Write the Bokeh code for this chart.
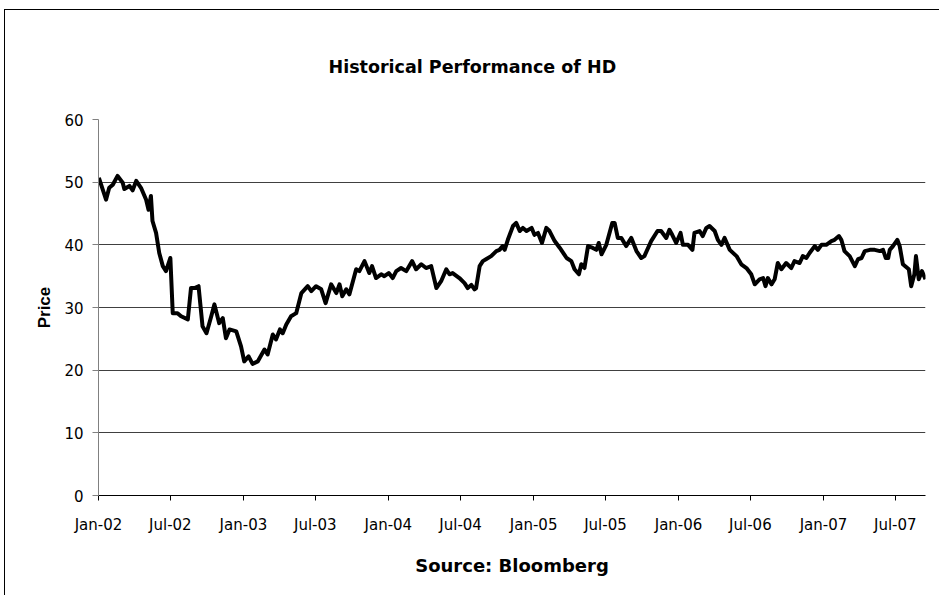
import pandas as pd
from bokeh.plotting import figure
from bokeh.models import (Range1d, FixedTicker, DatetimeTickFormatter, ColumnDataSource)
from bokeh.embed import file_html
from bokeh.resources import INLINE

# ---------------- data ----------------
dates = [
    "2002-01-02", "2002-01-20", "2002-01-28", "2002-02-06", "2002-02-18", "2002-03-03",
    "2002-03-07", "2002-03-20", "2002-03-28", "2002-04-06", "2002-04-18", "2002-05-01",
    "2002-05-07", "2002-05-13", "2002-05-17", "2002-05-26", "2002-06-03", "2002-06-12",
    "2002-06-20", "2002-07-01", "2002-07-07", "2002-07-19", "2002-07-28", "2002-08-14",
    "2002-08-22", "2002-08-31", "2002-09-10", "2002-09-20", "2002-09-30", "2002-10-12",
    "2002-10-20", "2002-11-01", "2002-11-10", "2002-11-18", "2002-11-27", "2002-12-14",
    "2002-12-26", "2003-01-03", "2003-01-14", "2003-01-24", "2003-02-06", "2003-02-23",
    "2003-03-03", "2003-03-16", "2003-03-24", "2003-04-03", "2003-04-10", "2003-04-19",
    "2003-05-01", "2003-05-14", "2003-05-27", "2003-06-12", "2003-06-21", "2003-07-03",
    "2003-07-16", "2003-07-27", "2003-08-10", "2003-08-23", "2003-08-31", "2003-09-07",
    "2003-09-17", "2003-09-25", "2003-10-12", "2003-10-20", "2003-11-02", "2003-11-14",
    "2003-11-21", "2003-12-01", "2003-12-14", "2003-12-22", "2004-01-02", "2004-01-12",
    "2004-01-21", "2004-02-02", "2004-02-15", "2004-03-01", "2004-03-11", "2004-03-24",
    "2004-04-05", "2004-04-18", "2004-05-01", "2004-05-13", "2004-05-26", "2004-06-03",
    "2004-06-11", "2004-06-28", "2004-07-11", "2004-07-19", "2004-07-28", "2004-08-05",
    "2004-08-09", "2004-08-18", "2004-08-26", "2004-09-03", "2004-09-16", "2004-09-29",
    "2004-10-07", "2004-10-15", "2004-10-20", "2004-10-28", "2004-11-10", "2004-11-18",
    "2004-11-27", "2004-12-05", "2004-12-14", "2004-12-27", "2005-01-03", "2005-01-12",
    "2005-01-22", "2005-02-02", "2005-02-10", "2005-02-23", "2005-03-08", "2005-03-25",
    "2005-04-06", "2005-04-14", "2005-04-25", "2005-05-01", "2005-05-09", "2005-05-18",
    "2005-05-30", "2005-06-08", "2005-06-14", "2005-06-21", "2005-07-03", "2005-07-18",
    "2005-07-24", "2005-08-01", "2005-08-10", "2005-08-22", "2005-09-04", "2005-09-17",
    "2005-09-29", "2005-10-07", "2005-10-24", "2005-11-09", "2005-11-18", "2005-12-01",
    "2005-12-09", "2005-12-16", "2005-12-26", "2006-01-06", "2006-01-12", "2006-01-25",
    "2006-02-05", "2006-02-10", "2006-02-23", "2006-03-03", "2006-03-12", "2006-03-20",
    "2006-04-02", "2006-04-10", "2006-04-19", "2006-04-27", "2006-05-10", "2006-05-27",
    "2006-06-08", "2006-06-21", "2006-07-03", "2006-07-12", "2006-07-24", "2006-08-02",
    "2006-08-08", "2006-08-14", "2006-08-23", "2006-08-31", "2006-09-08", "2006-09-17",
    "2006-09-29", "2006-10-12", "2006-10-20", "2006-11-02", "2006-11-10", "2006-11-19",
    "2006-11-27", "2006-12-10", "2006-12-18", "2006-12-27", "2007-01-08", "2007-01-21",
    "2007-01-29", "2007-02-09", "2007-02-15", "2007-02-23", "2007-03-08", "2007-03-21",
    "2007-03-29", "2007-04-07", "2007-04-15", "2007-04-28", "2007-05-10", "2007-05-23",
    "2007-05-31", "2007-06-07", "2007-06-13", "2007-06-17", "2007-06-25", "2007-07-06",
    "2007-07-12", "2007-07-20", "2007-08-04", "2007-08-10", "2007-08-18", "2007-08-22",
    "2007-08-29", "2007-09-06", "2007-09-15",
]
prices = [
    50.7, 47.2, 49.1, 49.6, 51.0, 49.9,
    48.9, 49.4, 48.7, 50.2, 49.1, 47.2,
    45.6, 47.8, 43.8, 41.9, 38.7, 36.6,
    35.8, 37.9, 29.1, 29.1, 28.6, 28.1,
    33.1, 33.1, 33.4, 27.0, 25.9, 28.6,
    30.5, 27.5, 28.3, 25.1, 26.5, 26.2,
    23.8, 21.4, 22.2, 21.0, 21.4, 23.3,
    22.5, 25.7, 24.9, 26.5, 25.9, 27.3,
    28.6, 29.1, 32.3, 33.4, 32.6, 33.4,
    32.9, 30.7, 33.7, 32.3, 33.7, 31.8,
    32.9, 32.1, 36.1, 35.8, 37.4, 35.5,
    36.6, 34.7, 35.3, 35.0, 35.5, 34.7,
    35.8, 36.3, 35.8, 37.4, 36.1, 36.9,
    36.3, 36.6, 33.1, 34.2, 36.1, 35.3,
    35.5, 34.7, 33.9, 33.1, 33.6, 32.9,
    33.1, 36.6, 37.4, 37.7, 38.2, 39.0,
    39.2, 39.8, 39.2, 40.8, 43.0, 43.5,
    42.2, 42.7, 42.2, 42.7, 41.6, 41.9,
    40.3, 42.7, 42.2, 40.6, 39.5, 37.9,
    37.4, 36.1, 35.3, 36.9, 36.3, 39.8,
    39.5, 39.2, 40.3, 38.5, 40.0, 43.5,
    43.5, 41.1, 41.1, 39.8, 41.1, 39.0,
    37.9, 38.2, 40.6, 42.2, 42.2, 41.1,
    42.4, 41.6, 40.3, 41.9, 40.0, 40.0,
    39.2, 41.9, 42.2, 41.4, 42.7, 43.0,
    42.2, 40.8, 40.0, 41.1, 39.2, 38.2,
    36.9, 36.3, 35.3, 33.7, 34.5, 34.7,
    33.4, 34.7, 33.7, 34.5, 37.1, 36.1,
    37.1, 36.3, 37.4, 37.1, 38.2, 37.9,
    38.7, 39.8, 39.2, 40.0, 40.0, 40.6,
    40.8, 41.4, 40.8, 39.0, 38.2, 36.6,
    37.7, 37.9, 39.0, 39.2, 39.2, 39.0,
    39.2, 37.9, 37.9, 39.2, 39.8, 40.8,
    39.8, 36.9, 36.1, 33.4, 35.3, 38.2,
    34.5, 35.8, 34.5,
]

tick_dates = ["2002-01-01", "2002-07-01", "2003-01-01", "2003-07-01", "2004-01-01",
              "2004-07-01", "2005-01-01", "2005-07-01", "2006-01-01", "2006-07-01",
              "2007-01-01", "2007-07-01"]
tick_labels = ["Jan-02", "Jul-02", "Jan-03", "Jul-03", "Jan-04", "Jul-04",
               "Jan-05", "Jul-05", "Jan-06", "Jul-06", "Jan-07", "Jul-07"]
y_ticks = [0, 10, 20, 30, 40, 50, 60]

title_text = "Historical Performance of HD"
x_label = "Source: Bloomberg"
y_label = "Price"

# ---------------- figure ----------------
dt = pd.to_datetime(dates)
source = ColumnDataSource(data=dict(date=dt, price=prices))

x_start = pd.Timestamp("2002-01-01")
x_end = dt[-1]

p = figure(width=935, height=586, x_axis_type="datetime",
           output_backend="svg", toolbar_location=None,
           x_range=Range1d(x_start, x_end), y_range=Range1d(0, 60),
           min_border_left=93, min_border_right=15,
           min_border_top=109, min_border_bottom=101)

p.background_fill_color = "white"
p.border_fill_color = "white"
p.outline_line_color = None
p.styles = {"margin-left": "4px", "margin-top": "9px",
            "border-left": "1px solid #000000", "border-top": "1px solid #000000"}

xa = p.below[0]
ya = p.left[0]

# title
p.title.text = title_text
p.title.align = "left"
p.title.offset = 230
p.title.standoff = 86
p.title.text_font = "DejaVu Sans"
p.title.text_font_style = "bold"
p.title.text_font_size = "17.5px"
p.title.text_color = "black"

p.line("date", "price", source=source, line_color="black", line_width=4,
       line_join="round")

# x axis
tick_ms = [int(pd.Timestamp(d).value // 10**6) for d in tick_dates]
xa.ticker = FixedTicker(ticks=tick_ms)
xa.formatter = DatetimeTickFormatter(days="%b-%y", months="%b-%y", years="%b-%y")
xa.major_label_overrides = {ms: lab for ms, lab in zip(tick_ms, tick_labels)}
xa.minor_tick_line_color = None
xa.major_tick_in = 0
xa.major_tick_out = 5
xa.axis_line_color = "black"
xa.major_tick_line_color = "black"
xa.major_label_text_font = "DejaVu Sans"
xa.major_label_text_font_size = "15px"
xa.major_label_text_color = "black"
xa.major_label_standoff = 15
xa.axis_label = x_label
xa.axis_label_text_font = "DejaVu Sans"
xa.axis_label_text_font_style = "bold"
xa.axis_label_text_font_size = "18px"
xa.axis_label_text_color = "black"
xa.axis_label_standoff = 18

# y axis
ya.ticker = FixedTicker(ticks=y_ticks)
ya.minor_tick_line_color = None
ya.major_tick_in = 0
ya.major_tick_out = 6
ya.axis_line_color = "#808080"
ya.major_tick_line_color = "#808080"
ya.major_label_text_font = "DejaVu Sans"
ya.major_label_text_font_size = "15px"
ya.major_label_text_color = "black"
ya.major_label_standoff = 9
ya.axis_label = y_label
ya.axis_label_text_font = "Liberation Sans"
ya.axis_label_text_font_style = "bold"
ya.axis_label_text_font_size = "17px"
ya.axis_label_text_color = "black"
ya.axis_label_standoff = 7

p.xgrid.grid_line_color = None
p.ygrid.ticker = FixedTicker(ticks=y_ticks)
p.ygrid.grid_line_color = "#404040"
p.ygrid.grid_line_width = 1

open("out.html", "w").write(file_html(p, INLINE))
